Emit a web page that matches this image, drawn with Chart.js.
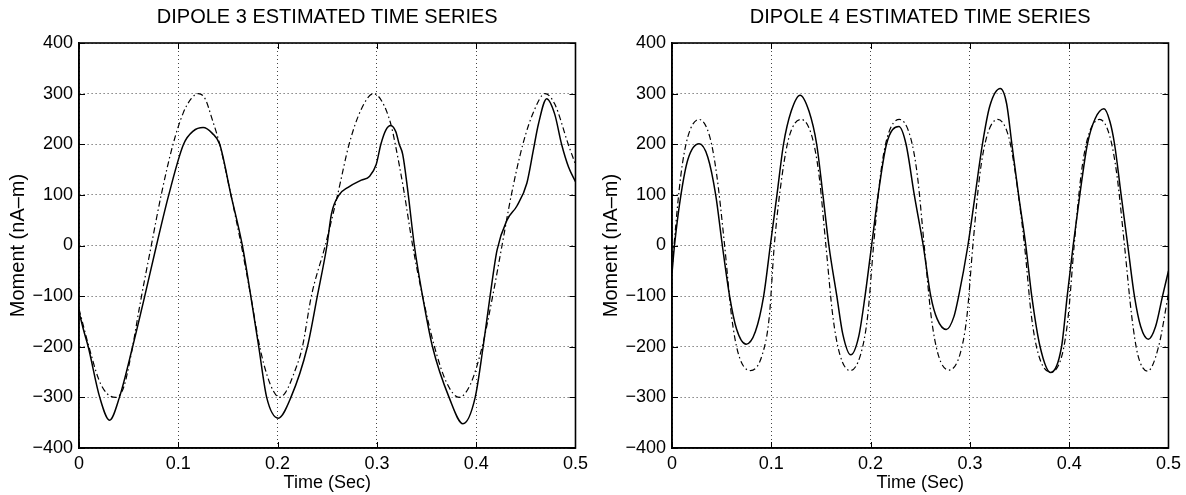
<!DOCTYPE html>
<html><head><meta charset="utf-8">
<script src="https://cdn.jsdelivr.net/npm/chart.js@4.4.0/dist/chart.umd.min.js"></script>
<style>
html,body{margin:0;padding:0;background:#fff;}
#wrap{position:relative;width:1186px;height:495px;overflow:hidden;background:#fff;}
canvas{position:absolute;top:0;}
</style></head><body>
<div id="wrap">
<canvas id="c3" width="593" height="495" style="left:0;width:593px;height:495px"></canvas>
<canvas id="c4" width="593" height="495" style="left:593px;width:593px;height:495px"></canvas>
</div>
<script>
// ---------- data ----------
const xTicks = [0, 0.1, 0.2, 0.3, 0.4, 0.5];
const xTickLabels = ['0', '0.1', '0.2', '0.3', '0.4', '0.5'];
const yTicks = [-400, -300, -200, -100, 0, 100, 200, 300, 400];
const yTickLabels = ['\u2212400', '\u2212300', '\u2212200', '\u2212100', '0', '100', '200', '300', '400'];

const dipole3Title = 'DIPOLE 3 ESTIMATED TIME SERIES';
const dipole4Title = 'DIPOLE 4 ESTIMATED TIME SERIES';
const xTitle = 'Time (Sec)';
const yTitle = 'Moment (nA\u2013m)';

// Dipole 3 - estimated (solid)
const d3EstT = [0.000, 0.005, 0.0093, 0.0209, 0.0308, 0.0407, 0.054, 0.0662, 0.078, 0.0904, 0.1053, 0.115, 0.125, 0.134, 0.1417, 0.153, 0.1645, 0.173, 0.181, 0.189, 0.2007, 0.2134, 0.230, 0.240, 0.2497, 0.2543, 0.262, 0.271, 0.2843, 0.2927, 0.2993, 0.304, 0.309, 0.314, 0.319, 0.3225, 0.326, 0.331, 0.3377, 0.346, 0.356, 0.3727, 0.3867, 0.399, 0.407, 0.414, 0.421, 0.431, 0.441, 0.451, 0.4577, 0.4627, 0.471, 0.479, 0.486, 0.493, 0.500];
const d3EstV = [-131, -170, -200, -300, -345, -300, -200, -100, 0, 100, 200, 226, 233, 222, 200, 100, 0, -100, -200, -300, -341, -300, -200, -100, 0, 63, 100, 115, 129, 137, 160, 200, 228, 237, 225, 200, 180, 110, 0, -100, -200, -300, -352, -300, -200, -100, -9, 50, 78, 123, 190, 240, 290, 260, 200, 155, 126];
// Dipole 3 - true (dash-dot)
const d3TrueT = [0.000, 0.010, 0.020, 0.028, 0.037, 0.045, 0.053, 0.062, 0.0728, 0.0828, 0.0947, 0.105, 0.113, 0.120, 0.127, 0.134, 0.1417, 0.153, 0.1635, 0.173, 0.182, 0.190, 0.1965, 0.2017, 0.208, 0.216, 0.225, 0.234, 0.248, 0.2604, 0.272, 0.284, 0.2966, 0.305, 0.314, 0.3185, 0.327, 0.336, 0.346, 0.358, 0.370, 0.3827, 0.394, 0.406, 0.4166, 0.426, 0.4354, 0.447, 0.458, 0.4693, 0.479, 0.4927, 0.500];
const d3TrueV = [-125, -200, -265, -292, -300, -280, -210, -110, 0, 100, 200, 262, 290, 300, 290, 250, 200, 100, 0, -100, -200, -260, -290, -300, -290, -255, -200, -100, 0, 100, 200, 268, 300, 285, 240, 200, 110, 0, -100, -200, -270, -300, -275, -200, -100, 0, 100, 200, 265, 300, 280, 200, 160];

// Dipole 4 - estimated (solid)
const d4EstT = [0.000, 0.0025, 0.009, 0.016, 0.0273, 0.036, 0.044, 0.0507, 0.058, 0.065, 0.0747, 0.084, 0.0923, 0.099, 0.1057, 0.1123, 0.120, 0.129, 0.138, 0.1457, 0.152, 0.158, 0.166, 0.172, 0.180, 0.188, 0.1944, 0.201, 0.2076, 0.216, 0.2285, 0.2357, 0.244, 0.253, 0.2606, 0.267, 0.2762, 0.284, 0.2887, 0.298, 0.3053, 0.3126, 0.320, 0.3307, 0.337, 0.3423, 0.349, 0.3563, 0.3623, 0.3707, 0.3813, 0.3923, 0.398, 0.404, 0.4107, 0.4183, 0.426, 0.435, 0.441, 0.4457, 0.4523, 0.459, 0.4657, 0.472, 0.4797, 0.487, 0.494, 0.500];
const d4EstV = [-55, 0, 100, 170, 201, 175, 100, 0, -100, -165, -195, -170, -100, 0, 100, 200, 265, 297, 265, 200, 100, 0, -100, -175, -216, -180, -100, 0, 100, 200, 235, 200, 100, 0, -100, -145, -166, -140, -100, 0, 100, 200, 275, 310, 280, 200, 100, 0, -100, -200, -251, -200, -100, 0, 100, 200, 250, 270, 245, 200, 100, 0, -100, -160, -185, -160, -100, -50];
// Dipole 4 - true (dash-dot)
const d4TrueT = [0.000, 0.002, 0.009, 0.016, 0.0273, 0.038, 0.045, 0.053, 0.060, 0.067, 0.079, 0.091, 0.098, 0.103, 0.111, 0.118, 0.130, 0.141, 0.148, 0.155, 0.162, 0.169, 0.1795, 0.190, 0.197, 0.203, 0.210, 0.217, 0.229, 0.240, 0.247, 0.254, 0.261, 0.268, 0.2788, 0.290, 0.297, 0.303, 0.310, 0.317, 0.328, 0.339, 0.346, 0.355, 0.362, 0.369, 0.3813, 0.393, 0.399, 0.405, 0.412, 0.419, 0.4307, 0.441, 0.448, 0.4557, 0.463, 0.469, 0.479, 0.490, 0.500];
const d4TrueV = [-50, 0, 140, 215, 249, 215, 140, 0, -140, -215, -247, -215, -140, 0, 140, 215, 249, 215, 140, 0, -140, -215, -247, -215, -140, 0, 140, 215, 249, 215, 140, 0, -140, -215, -246, -215, -140, 0, 140, 215, 249, 215, 140, 0, -140, -215, -250, -215, -140, 0, 140, 215, 249, 215, 140, 0, -140, -215, -248, -200, -95];

// ---------- rendering ----------
const FONT = "'Liberation Sans', Arial, Helvetica, sans-serif";
const pts = (t, v) => t.map((x, i) => ({x: x, y: v[i]}));

const matlabFrame = {
  id: 'matlabFrame',
  afterDraw(chart, args, opts) {
    const {ctx, chartArea: a, scales} = chart;
    ctx.save();
    ctx.setLineDash([]);
    ctx.strokeStyle = '#000';
    ctx.lineWidth = 1;
    const L = 6;
    ctx.beginPath();
    scales.x.ticks.forEach(t => {
      const px = Math.round(scales.x.getPixelForValue(t.value)) + 0.5;
      ctx.moveTo(px, a.bottom); ctx.lineTo(px, a.bottom - L);
      ctx.moveTo(px, a.top); ctx.lineTo(px, a.top + L);
    });
    scales.y.ticks.forEach(t => {
      const py = Math.round(scales.y.getPixelForValue(t.value)) + 0.5;
      ctx.moveTo(a.left, py); ctx.lineTo(a.left + L, py);
      ctx.moveTo(a.right, py); ctx.lineTo(a.right - L, py);
    });
    ctx.stroke();
    ctx.lineWidth = 1.6;
    ctx.strokeRect(a.left, a.top, a.right - a.left, a.bottom - a.top);
    ctx.fillStyle = '#000';
    ctx.font = opts.font;
    ctx.textAlign = 'center';
    ctx.textBaseline = 'middle';
    ctx.fillText(opts.text, (a.left + a.right) / 2, opts.y);
    ctx.restore();
  }
};

function makeChart(id, title, estT, estV, trueT, trueV, padRight) {
  return new Chart(document.getElementById(id), {
    type: 'line',
    data: {
      datasets: [
        {label: 'estimated', data: pts(estT, estV), borderColor: '#000', borderWidth: 1.5,
         pointRadius: 0, cubicInterpolationMode: 'monotone', fill: false},
        {label: 'true', data: pts(trueT, trueV), borderColor: '#000', borderWidth: 1.2,
         borderDash: [6, 3, 1.5, 3], pointRadius: 0, cubicInterpolationMode: 'monotone', fill: false}
      ]
    },
    options: {
      responsive: false,
      animation: false,
      devicePixelRatio: 1,
      layout: {padding: {top: 43, right: padRight, bottom: 0, left: 0}},
      plugins: {
        legend: {display: false},
        tooltip: {enabled: false},
        title: {display: false},
        matlabFrame: {text: title, font: "20px " + FONT, y: 17}
      },
      scales: {
        x: {
          type: 'linear', min: 0, max: 0.5,
          afterBuildTicks: s => { s.ticks = xTicks.map(v => ({value: v})); },
          afterFit: s => { s.height = 47; },
          ticks: {callback: (v, i) => xTickLabels[i], font: {family: FONT, size: 18}, color: '#000',
                  padding: 5, maxRotation: 0, autoSkip: false},
          grid: {color: '#444', lineWidth: 1, drawTicks: false},
          border: {display: true, color: '#000', width: 1.6, dash: [1, 3]},
          title: {display: true, text: xTitle, color: '#000', font: {family: FONT, size: 18},
                  padding: {top: 0, bottom: 1}}
        },
        y: {
          type: 'linear', min: -400, max: 400,
          afterBuildTicks: s => { s.ticks = yTicks.map(v => ({value: v})); },
          afterFit: s => { s.width = 79; },
          ticks: {callback: (v, i) => yTickLabels[i], font: {family: FONT, size: 18}, color: '#000',
                  padding: 6, autoSkip: false},
          grid: {color: '#444', lineWidth: 1, drawTicks: false},
          border: {display: true, color: '#000', width: 1.6, dash: [1, 3]},
          title: {display: true, text: yTitle, color: '#000', font: {family: FONT, size: 20},
                  padding: {top: 6, bottom: 0}}
        }
      }
    },
    plugins: [matlabFrame]
  });
}

makeChart('c3', dipole3Title, d3EstT, d3EstV, d3TrueT, d3TrueV, 14);
makeChart('c4', dipole4Title, d4EstT, d4EstV, d4TrueT, d4TrueV, 15);
</script>
</body></html>
